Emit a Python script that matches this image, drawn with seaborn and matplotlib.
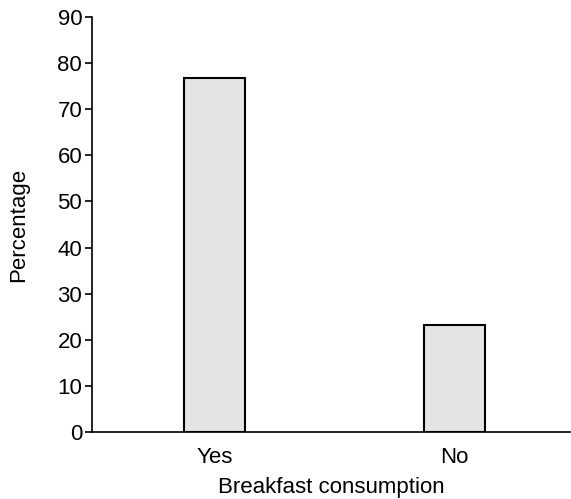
import matplotlib
matplotlib.use("Agg")
import matplotlib.pyplot as plt
import seaborn as sns
import pandas as pd

categories = ["Yes", "No"]
percentages = [76.8, 23.2]
y_ticks = [0, 10, 20, 30, 40, 50, 60, 70, 80, 90]

sns.set_style("ticks")
plt.rcParams['font.family'] = ['Liberation Sans', 'DejaVu Sans']

df = pd.DataFrame({"Breakfast consumption": categories, "Percentage": percentages})

fig = plt.figure(figsize=(5.71, 4.99), dpi=100)
ax = fig.add_axes([0.161, 0.134, 0.837, 0.832])
sns.barplot(data=df, x="Breakfast consumption", y="Percentage", ax=ax,
            color="#e4e4e4", edgecolor="black", linewidth=1.5, width=0.254,
            saturation=1)
ax.set_ylim(0, 90)
ax.set_xlim(-0.51, 1.48)
ax.set_yticks(y_ticks)
ax.tick_params(axis="y", length=5, width=1.2, labelsize=16, colors="black",
               labelcolor="black", pad=2)
ax.tick_params(axis="x", length=0, labelsize=16, labelcolor="black", pad=11)
ax.set_xlabel("Breakfast consumption", fontsize=16, labelpad=6, color="black")
ax.set_ylabel("Percentage", fontsize=16, labelpad=20, color="black")
for s in ["top", "right"]:
    ax.spines[s].set_visible(False)
for s in ["left", "bottom"]:
    ax.spines[s].set_linewidth(1.2)
    ax.spines[s].set_color("black")
fig.savefig("out.png", dpi=100)
